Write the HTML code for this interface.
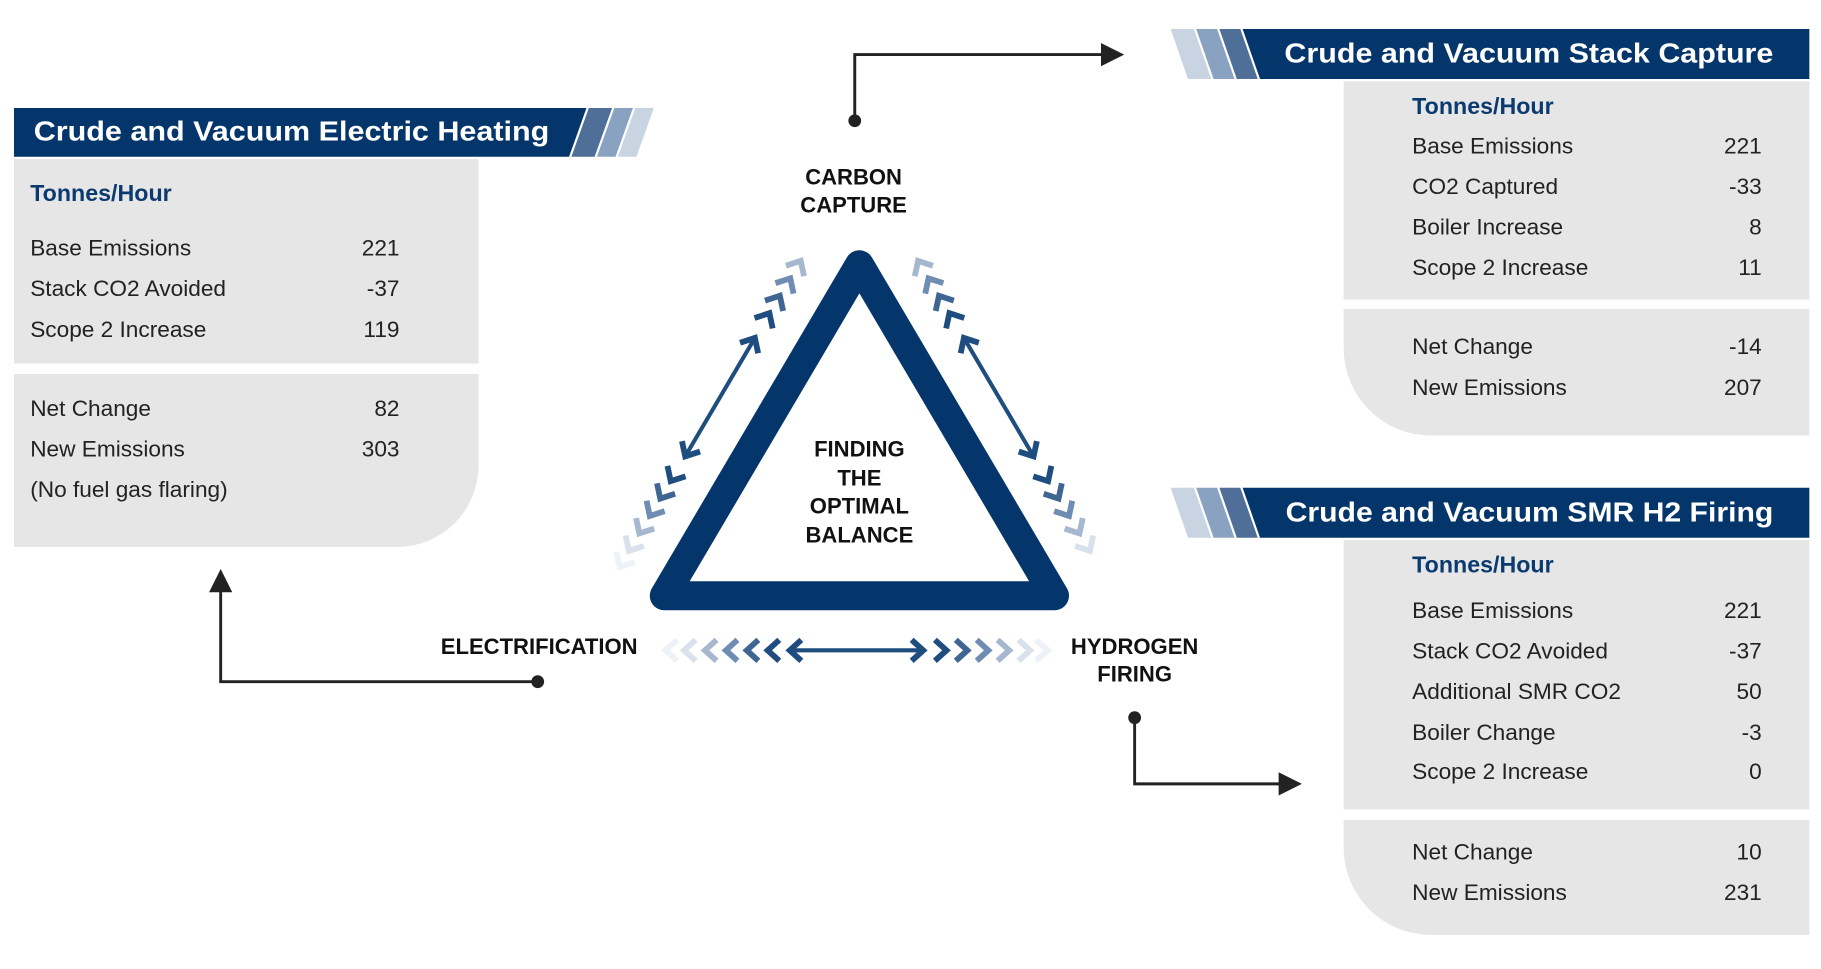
<!DOCTYPE html>
<html><head><meta charset="utf-8"><style>
html,body{margin:0;padding:0;background:#fff;}
svg{display:block;}
text{font-family:"Liberation Sans",sans-serif;}
.t{font-size:24px;font-weight:bold;fill:#fff;}
.h{font-size:20px;font-weight:bold;fill:#0b3a70;}
.r{font-size:19.5px;fill:#222;}
.n{font-size:19.5px;fill:#222;text-anchor:end;}
.b{font-size:19px;font-weight:bold;fill:#111;}
.c{stroke-width:5;fill:none;stroke-linecap:butt;stroke-linejoin:miter;}
</style></head><body>
<svg width="1821" height="969" viewBox="0 0 1568 834.4" xmlns="http://www.w3.org/2000/svg">
<defs>
<g id="ch"><path d="M-5,-9 L5,0 L-5,9" class="c"/></g>
</defs>

<!-- LEFT CARD -->
<polygon points="12,93 505,93 490,135 12,135" fill="#05366b"/>
<polygon points="507,93 527,93 512,135 492,135" fill="#4f6f99"/>
<polygon points="529,93 545,93 530,135 514,135" fill="#8aa2c2"/>
<polygon points="547,93 563,93 548,135 532,135" fill="#c9d4e3"/>
<text x="29" y="121" class="t" textLength="444" lengthAdjust="spacingAndGlyphs">Crude and Vacuum Electric Heating</text>
<rect x="12" y="137" width="400" height="176" fill="#e6e6e6"/>
<path d="M12,322 H412 V401 A70,70 0 0 1 342,471 H12 Z" fill="#e6e6e6"/>
<text x="26" y="173" class="h">Tonnes/Hour</text>
<text x="26" y="220" class="r">Base Emissions</text><text x="344" y="220" class="n">221</text>
<text x="26" y="255" class="r">Stack CO2 Avoided</text><text x="344" y="255" class="n">-37</text>
<text x="26" y="290" class="r">Scope 2 Increase</text><text x="344" y="290" class="n">119</text>
<text x="26" y="358" class="r">Net Change</text><text x="344" y="358" class="n">82</text>
<text x="26" y="393" class="r">New Emissions</text><text x="344" y="393" class="n">303</text>
<text x="26" y="428" class="r">(No fuel gas flaring)</text>

<!-- TOP RIGHT CARD -->
<polygon points="1008,25 1028,25 1043,68 1023,68" fill="#c9d4e3"/>
<polygon points="1030,25 1048,25 1063,68 1045,68" fill="#8aa2c2"/>
<polygon points="1050,25 1068,25 1083,68 1065,68" fill="#4f6f99"/>
<polygon points="1070,25 1558,25 1558,68 1085,68" fill="#05366b"/>
<text x="1106" y="54" class="t" textLength="421" lengthAdjust="spacingAndGlyphs">Crude and Vacuum Stack Capture</text>
<rect x="1157" y="70" width="401" height="188" fill="#e6e6e6"/>
<path d="M1157,266 H1558 V375 H1232 A75,75 0 0 1 1157,300 Z" fill="#e6e6e6"/>
<text x="1216" y="98" class="h">Tonnes/Hour</text>
<text x="1216" y="132" class="r">Base Emissions</text><text x="1517" y="132" class="n">221</text>
<text x="1216" y="167" class="r">CO2 Captured</text><text x="1517" y="167" class="n">-33</text>
<text x="1216" y="202" class="r">Boiler Increase</text><text x="1517" y="202" class="n">8</text>
<text x="1216" y="237" class="r">Scope 2 Increase</text><text x="1517" y="237" class="n">11</text>
<text x="1216" y="305" class="r">Net Change</text><text x="1517" y="305" class="n">-14</text>
<text x="1216" y="340" class="r">New Emissions</text><text x="1517" y="340" class="n">207</text>

<!-- BOTTOM RIGHT CARD -->
<polygon points="1008,420 1028,420 1043,463 1023,463" fill="#c9d4e3"/>
<polygon points="1030,420 1048,420 1063,463 1045,463" fill="#8aa2c2"/>
<polygon points="1050,420 1068,420 1083,463 1065,463" fill="#4f6f99"/>
<polygon points="1070,420 1558,420 1558,463 1085,463" fill="#05366b"/>
<text x="1107" y="449" class="t" textLength="420" lengthAdjust="spacingAndGlyphs">Crude and Vacuum SMR H2 Firing</text>
<rect x="1157" y="465" width="401" height="232" fill="#e6e6e6"/>
<path d="M1157,706 H1558 V805 H1232 A75,75 0 0 1 1157,730 Z" fill="#e6e6e6"/>
<text x="1216" y="493" class="h">Tonnes/Hour</text>
<text x="1216" y="532" class="r">Base Emissions</text><text x="1517" y="532" class="n">221</text>
<text x="1216" y="567" class="r">Stack CO2 Avoided</text><text x="1517" y="567" class="n">-37</text>
<text x="1216" y="602" class="r">Additional SMR CO2</text><text x="1517" y="602" class="n">50</text>
<text x="1216" y="637" class="r">Boiler Change</text><text x="1517" y="637" class="n">-3</text>
<text x="1216" y="671" class="r">Scope 2 Increase</text><text x="1517" y="671" class="n">0</text>
<text x="1216" y="740" class="r">Net Change</text><text x="1517" y="740" class="n">10</text>
<text x="1216" y="775" class="r">New Emissions</text><text x="1517" y="775" class="n">231</text>

<!-- TRIANGLE -->
<polygon points="740,228 572,513 908,513" fill="none" stroke="#05366b" stroke-width="25" stroke-linejoin="round"/>
<text x="740" y="393" class="b" text-anchor="middle">FINDING</text>
<text x="740" y="418" class="b" text-anchor="middle">THE</text>
<text x="740" y="442" class="b" text-anchor="middle">OPTIMAL</text>
<text x="740" y="467" class="b" text-anchor="middle">BALANCE</text>
<text x="735" y="159" class="b" text-anchor="middle">CARBON</text>
<text x="735" y="183" class="b" text-anchor="middle">CAPTURE</text>
<text x="549" y="563" class="b" text-anchor="end">ELECTRIFICATION</text>
<text x="977" y="563" class="b" text-anchor="middle">HYDROGEN</text>
<text x="977" y="587" class="b" text-anchor="middle">FIRING</text>

<!-- bottom arrows -->
<g stroke="#1f4d80">
<line x1="682" y1="560" x2="793" y2="560" stroke-width="3.5"/>
<path d="M690,551 L680,560 L690,569" class="c"/>
<path d="M785,551 L795,560 L785,569" class="c"/>
</g>
<g stroke="#1f4d80"><use href="#ch" transform="translate(666,560) rotate(180)"/><use href="#ch" transform="translate(810,560)"/></g>
<g stroke="#3f6592"><use href="#ch" transform="translate(648,560) rotate(180)"/><use href="#ch" transform="translate(828,560)"/></g>
<g stroke="#6f8db2"><use href="#ch" transform="translate(630,560) rotate(180)"/><use href="#ch" transform="translate(846,560)"/></g>
<g stroke="#a5b8d0"><use href="#ch" transform="translate(612,560) rotate(180)"/><use href="#ch" transform="translate(864,560)"/></g>
<g stroke="#d8e1ec"><use href="#ch" transform="translate(594,560) rotate(180)"/><use href="#ch" transform="translate(882,560)"/></g>
<g stroke="#eef2f7"><use href="#ch" transform="translate(578,560) rotate(180)"/><use href="#ch" transform="translate(897,560)"/></g>

<!-- left side arrows -->
<g stroke="#1f4d80">
<line x1="590" y1="393" x2="650" y2="291" stroke-width="3.5"/>
<g transform="translate(650,291) rotate(-60)"><path d="M-10,-9 L0,0 L-10,9" class="c"/></g>
<g transform="translate(590,393) rotate(120)"><path d="M-10,-9 L0,0 L-10,9" class="c"/></g>
<use href="#ch" transform="translate(580,410) rotate(120)"/><use href="#ch" transform="translate(660,274) rotate(-60)"/>
</g>
<g stroke="#3f6592"><use href="#ch" transform="translate(571,425) rotate(120)"/><use href="#ch" transform="translate(669,259) rotate(-60)"/></g>
<g stroke="#6f8db2"><use href="#ch" transform="translate(562,440) rotate(120)"/><use href="#ch" transform="translate(678,244) rotate(-60)"/></g>
<g stroke="#a5b8d0"><use href="#ch" transform="translate(553,455) rotate(120)"/><use href="#ch" transform="translate(687,229) rotate(-60)"/></g>
<g stroke="#d8e1ec"><use href="#ch" transform="translate(544,470) rotate(120)"/></g>
<g stroke="#eef2f7"><use href="#ch" transform="translate(536,484) rotate(120)"/></g>

<!-- right side arrows -->
<g stroke="#1f4d80">
<line x1="830" y1="291" x2="890" y2="393" stroke-width="3.5"/>
<g transform="translate(830,291) rotate(-120)"><path d="M-10,-9 L0,0 L-10,9" class="c"/></g>
<g transform="translate(890,393) rotate(60)"><path d="M-10,-9 L0,0 L-10,9" class="c"/></g>
<use href="#ch" transform="translate(820,274) rotate(-120)"/><use href="#ch" transform="translate(900,410) rotate(60)"/>
</g>
<g stroke="#3f6592"><use href="#ch" transform="translate(811,259) rotate(-120)"/><use href="#ch" transform="translate(909,425) rotate(60)"/></g>
<g stroke="#6f8db2"><use href="#ch" transform="translate(802,244) rotate(-120)"/><use href="#ch" transform="translate(918,440) rotate(60)"/></g>
<g stroke="#a5b8d0"><use href="#ch" transform="translate(793,229) rotate(-120)"/><use href="#ch" transform="translate(927,455) rotate(60)"/></g>
<g stroke="#d8e1ec"><use href="#ch" transform="translate(936,470) rotate(60)"/></g>

<!-- connectors -->
<g stroke="#222" stroke-width="2.5" fill="none">
<polyline points="736,104 736,47 952,47"/>
<polyline points="463,587 190,587 190,508"/>
<polyline points="977,618 977,675 1104,675"/>
</g>
<g fill="#222">
<circle cx="736" cy="104" r="5.5"/>
<circle cx="463" cy="587" r="5.5"/>
<circle cx="977" cy="618" r="5.5"/>
<polygon points="948,37 968,47 948,57"/>
<polygon points="180,510 190,490 200,510"/>
<polygon points="1101,665 1121,675 1101,685"/>
</g>
</svg>
</body></html>
